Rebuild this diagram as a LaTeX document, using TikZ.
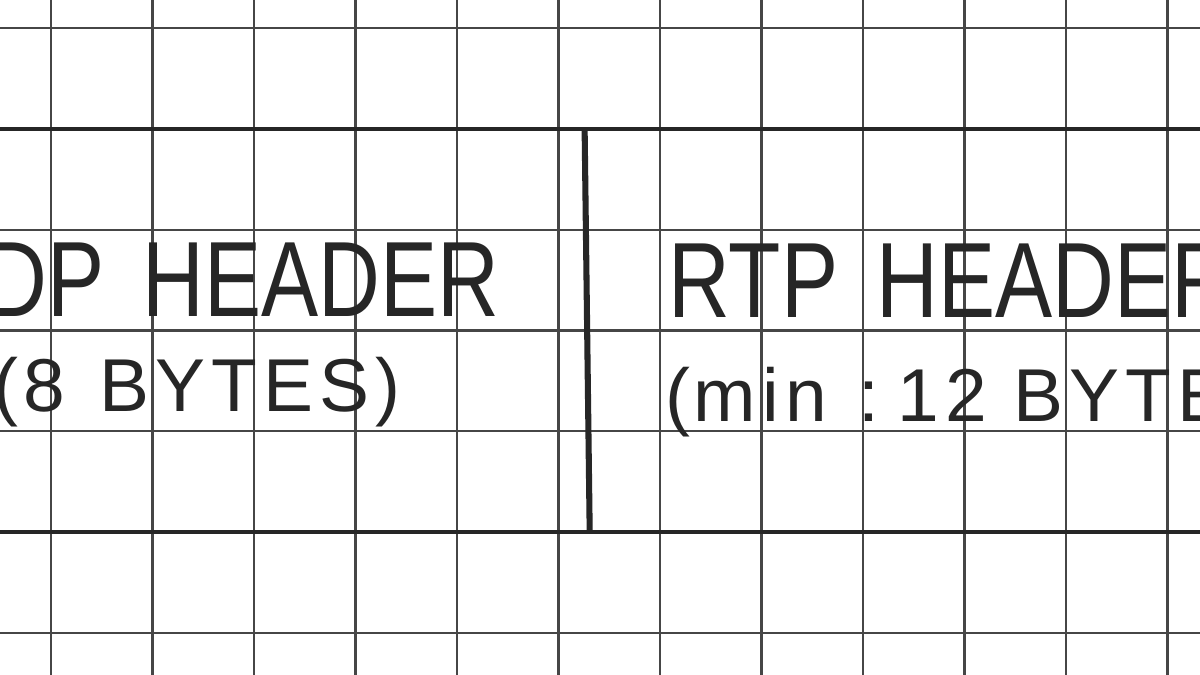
\documentclass[tikz,border=0pt]{standalone}
\usepackage{fontspec}
\setmainfont{Liberation Sans}
\newfontfamily\handfont[LetterSpace=8]{Liberation Sans}
\definecolor{pencil}{RGB}{38,38,38}
\definecolor{gridink}{RGB}{70,70,70}
\tikzset{
  gridline/.style={gridink, line width=0.6pt},
  boxline/.style={pencil, line width=1.3pt},
  hdrtext/.style={pencil, inner sep=0pt, font=\fontsize{30}{30}\selectfont, xscale=0.8},
  sizetext/.style={pencil, inner sep=0pt, font=\handfont\fontsize{21}{21}\selectfont},
}
\begin{document}
\begin{tikzpicture}
\useasboundingbox (0,0) rectangle (11.823,6.65);
\clip (0,0) rectangle (11.823,6.65);
\fill[white] (0,0) rectangle (11.823,6.65);
\draw[gridline, xstep=1, ystep=0.993, shift={(0.502,0.414)}] (-1,-1) grid (12,7); %paper grid

\coordinate (divtop) at (5.76,5.379);
\coordinate (divbot) at (5.81,1.407);
\draw[boxline](-0.1,5.379)--(12,5.379); %top
\draw[boxline](-0.1,1.407)--(12,1.407); %bottom
\draw[boxline, line width=1.7pt](divtop)--(divbot);

\node[hdrtext, anchor=base east] (udp) at (4.93,3.53) {UDP\hspace{0.45em}HEADER};
\node[sizetext, anchor=base east] (udpsize) at (3.95,2.60) {(8\hspace{2pt} BYTES)};
\node[hdrtext, anchor=base west] (rtp) at (6.58,3.52) {RTP\hspace{0.45em}HEADER};
\node[sizetext, anchor=base west] (rtpsize) at (6.55,2.50) {(\hspace{1pt}min\hspace{9pt}:\hspace{5pt}12 BYTES)};
\end{tikzpicture}
\end{document}
